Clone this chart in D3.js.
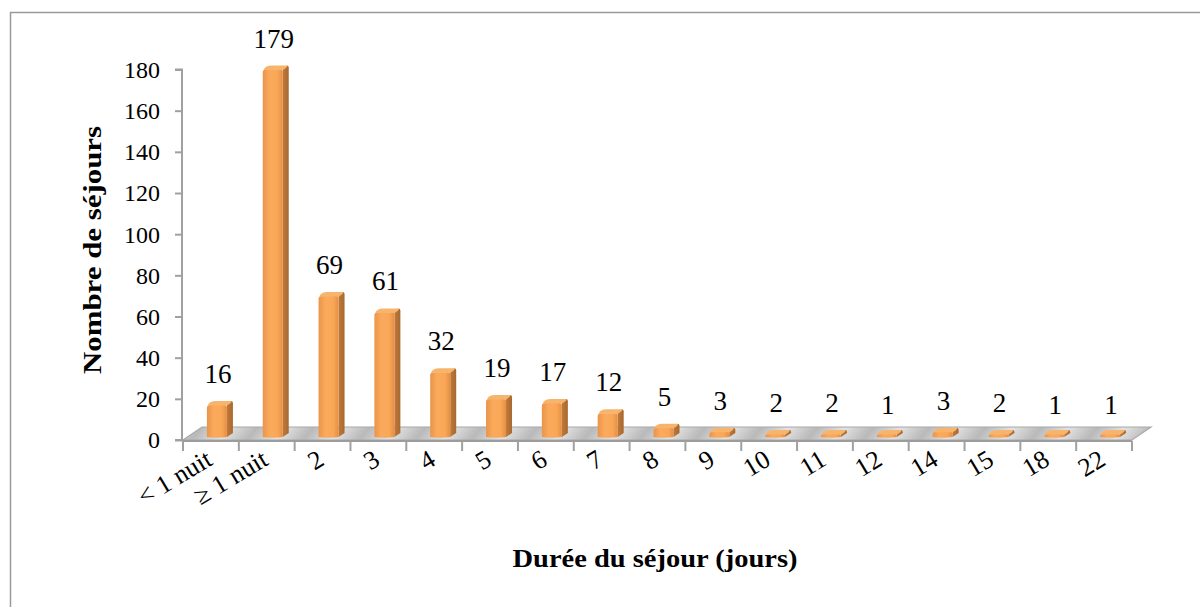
<!DOCTYPE html>
<html><head><meta charset="utf-8">
<script src="https://cdn.jsdelivr.net/npm/d3@7"></script>
<style>
html,body{margin:0;padding:0;background:#fff;}
svg{display:block;}
</style></head>
<body>
<svg id="chart" width="1200" height="607"></svg>
<script>
const categories = ["< 1 nuit","≥ 1 nuit","2","3","4","5","6","7","8","9","10","11","12","14","15","18","22"];
const values = [16,179,69,61,32,19,17,12,5,3,2,2,1,3,2,1,1];
const yTicks = [0,20,40,60,80,100,120,140,160,180];
const xTitle = "Durée du séjour (jours)";
const yTitle = "Nombre de séjours";

const svg = d3.select("#chart");
const defs = svg.append("defs");

// frame
svg.append("path").attr("d","M10.5,620 L10.5,12.5 L1210,12.5")
  .attr("fill","none").attr("stroke","#9a9a9a").attr("stroke-width",1.5);

const x = d3.scaleBand().domain(categories).range([183,1132]).paddingInner(0).paddingOuter(0);
const y = d3.scaleLinear().domain([0,180]).range([440,69.5]);
const DX = 19, DY = -13;

// floor gradient
const fg = defs.append("linearGradient").attr("id","floorGrad")
  .attr("gradientUnits","userSpaceOnUse").attr("x1",0).attr("y1",0).attr("x2",56).attr("y2",0)
  .attr("spreadMethod","repeat").attr("gradientTransform","skewX(-40)");
fg.append("stop").attr("offset","0%").attr("stop-color","#b9b9b9");
fg.append("stop").attr("offset","50%").attr("stop-color","#e2e2e2");
fg.append("stop").attr("offset","100%").attr("stop-color","#b9b9b9");

const x0 = x.range()[0], x1 = x.range()[1], y0 = y(0);
svg.append("path")
  .attr("d",`M${x0},${y0} L${x0+DX},${y0+DY} L${x1+DX},${y0+DY} L${x1},${y0} Z`)
  .attr("fill","url(#floorGrad)").attr("stroke","#a8a8a8").attr("stroke-width",1.2);
svg.append("line").attr("x1",x0).attr("x2",x1).attr("y1",y0+1).attr("y2",y0+1)
  .attr("stroke","#9c9c9c").attr("stroke-width",2);

// y axis
const yAxis = d3.axisLeft(y).tickValues(yTicks).tickSize(7).tickPadding(15);
const ya = svg.append("g").attr("transform",`translate(182,0)`).call(yAxis);
ya.select(".domain").attr("stroke","#a0a0a0").attr("stroke-width",2).attr("d",`M-7,${y(180)}H0V${y0}H-7`);
ya.selectAll(".tick line").attr("stroke","#a0a0a0").attr("stroke-width",2);
ya.selectAll(".tick text").attr("font-family","'Liberation Serif',serif").attr("font-size",24)
  .attr("fill","#000").attr("dy","0.33em");

// x axis ticks
const bounds = categories.map(c=>x(c)).concat([x1]);
svg.append("g").selectAll("line").data(bounds).join("line")
  .attr("x1",d=>d).attr("x2",d=>d).attr("y1",y0+1).attr("y2",y0+11)
  .attr("stroke","#a0a0a0").attr("stroke-width",2);

// x labels
svg.append("g").selectAll("text").data(categories).join("text")
  .attr("transform",d=>`translate(${x(d)+x.bandwidth()/2+3},${y0+24}) rotate(-31)`)
  .attr("text-anchor","end")
  .attr("font-family","'Liberation Serif',serif").attr("font-size",26).attr("fill","#000")
  .text(d=>d);

// bar gradients
const bg = defs.append("linearGradient").attr("id","barFront").attr("x1","0").attr("x2","1").attr("y1","0").attr("y2","0");
bg.append("stop").attr("offset","0%").attr("stop-color","#e9944a");
bg.append("stop").attr("offset","35%").attr("stop-color","#fbaa5c");
bg.append("stop").attr("offset","75%").attr("stop-color","#f9a657");
bg.append("stop").attr("offset","100%").attr("stop-color","#e48f45");
const sg = defs.append("linearGradient").attr("id","barSide").attr("x1","0").attr("x2","1").attr("y1","0").attr("y2","0");
sg.append("stop").attr("offset","0%").attr("stop-color","#c07a3a");
sg.append("stop").attr("offset","100%").attr("stop-color","#a8682f");

const FW = 20, SW = 6, SH = 4, BASE = 437;
const bars = svg.append("g").selectAll("g").data(values).join("g");
bars.each(function(v,i){
  const g = d3.select(this);
  const c = x(categories[i]) + x.bandwidth()/2;
  const L = c - 4, R = L + FW;
  const top = Math.min(y(v) - 2, BASE - 3);
  g.append("path")
    .attr("d",`M${R},${BASE} L${R+SW},${BASE-SH} L${R+SW},${top-SH+2} Q${R+SW},${top-SH} ${R+SW-2},${top-SH} L${R},${top} Z`)
    .attr("fill","url(#barSide)");
  g.append("path")
    .attr("d",`M${L},${BASE} L${L},${top+3} Q${L},${top} ${L+3},${top} L${R-2},${top} Q${R},${top} ${R},${top+2} L${R},${BASE} Q${L+FW/2},${BASE+1.5} ${L},${BASE} Z`)
    .attr("fill","url(#barFront)");
  g.append("path")
    .attr("d",`M${L+1},${top+0.5} Q${L+2},${top-SH} ${L+SW+3},${top-SH} L${R+SW-2},${top-SH} Q${R+SW},${top-SH+1} ${R},${top+0.5} Z`)
    .attr("fill","#f7b46c");
});

// value labels
svg.append("g").selectAll("text").data(values).join("text")
  .attr("x",(d,i)=>x(categories[i])+x.bandwidth()/2+7)
  .attr("y",d=>y(d)-24)
  .attr("text-anchor","middle")
  .attr("font-family","'Liberation Serif',serif").attr("font-size",27).attr("fill","#000")
  .text(d=>d);

// titles
svg.append("text").attr("x",655).attr("y",567).attr("text-anchor","middle")
  .attr("font-family","'Liberation Serif',serif").attr("font-weight","bold").attr("font-size",25)
  .attr("textLength",285).attr("lengthAdjust","spacingAndGlyphs")
  .text(xTitle);
svg.append("text").attr("transform","translate(101,250) rotate(-90)").attr("text-anchor","middle")
  .attr("font-family","'Liberation Serif',serif").attr("font-weight","bold").attr("font-size",25)
  .attr("textLength",248).attr("lengthAdjust","spacingAndGlyphs")
  .text(yTitle);
</script>
</body></html>
